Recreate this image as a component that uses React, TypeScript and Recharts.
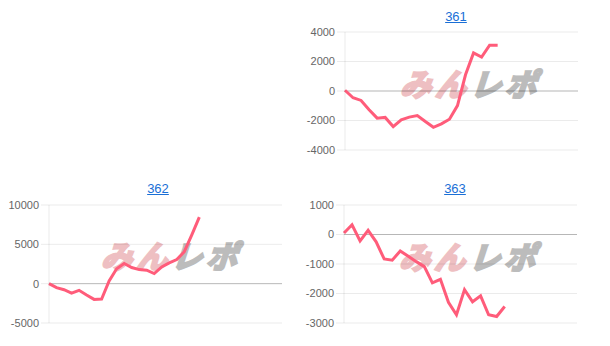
import { LineChart, Line, XAxis, YAxis, CartesianGrid, ReferenceLine } from 'recharts'

// category slots (days) per chart
const DAYS_30 = [1, 2, 3, 4, 5, 6, 7, 8, 9, 10, 11, 12, 13, 14, 15, 16, 17, 18, 19, 20, 21, 22, 23, 24, 25, 26, 27, 28, 29, 30]
const DAYS_32 = [1, 2, 3, 4, 5, 6, 7, 8, 9, 10, 11, 12, 13, 14, 15, 16, 17, 18, 19, 20, 21, 22, 23, 24, 25, 26, 27, 28, 29, 30, 31, 32]

const VALUES_361 = [50, -460, -640, -1270, -1840, -1790, -2410, -1950, -1770, -1660, -2070, -2460, -2230, -1910, -990, 1100, 2580, 2300, 3100, 3100]
const VALUES_362 = [0, -510, -770, -1200, -850, -1450, -2000, -1960, 340, 1900, 2560, 2050, 1790, 1710, 1280, 2130, 2650, 3070, 4060, 6190, 8450]
const VALUES_363 = [50, 330, -220, 140, -250, -830, -870, -560, -740, -920, -1090, -1640, -1520, -2300, -2720, -1870, -2280, -2080, -2720, -2780, -2440]

const TICKS_361 = [-4000, -2000, 0, 2000, 4000]
const TICKS_362 = [-5000, 0, 5000, 10000]
const TICKS_363 = [-3000, -2000, -1000, 0, 1000]

const LINE_COLOR = 'rgb(255, 92, 122)'
const GRID = 'rgba(0,0,0,0.08)'
const FONT = '"Liberation Sans", Arial, sans-serif'

type MiniProps = {
  title: string
  days: number[]
  values: number[]
  ticks: number[]
  left: number
  top: number
  titleX: number
  titleY: number
  markX: number
  markY: number
}

function buildRows(days: number[], values: number[]) {
  return days.map((d, i) => ({ day: d, value: i < values.length ? values[i] : null }))
}

// site logo behind each chart, approximated with heavy slanted text
function Watermark({ x, y }: { x: number; y: number }) {
  return (
    <div
      style={{
        position: 'absolute',
        left: x,
        top: y,
        fontFamily: '"Noto Sans CJK JP", sans-serif',
        fontWeight: 700,
        fontSize: 31,
        lineHeight: '30px',
        letterSpacing: 4,
        whiteSpace: 'nowrap',
        transform: 'skewX(-18deg)',
        transformOrigin: 'left bottom',
      }}
    >
      <span style={{ color: '#eebfc2', WebkitTextStroke: '2.5px #eebfc2' }}>みん</span>
      <span style={{ color: '#bcbcbc', WebkitTextStroke: '2.5px #bcbcbc' }}>レポ</span>
    </div>
  )
}

function MiniChart({ title, days, values, ticks, left, top, titleX, titleY, markX, markY }: MiniProps) {
  const rows = buildRows(days, values)
  return (
    <>
      <Watermark x={markX} y={markY} />
      <a
        href="#"
        style={{
          position: 'absolute',
          left: titleX - 30,
          top: titleY - 8,
          width: 60,
          textAlign: 'center',
          fontFamily: FONT,
          fontSize: 13,
          lineHeight: '16px',
          color: '#1a6fd6',
          textDecoration: 'underline',
        }}
      >
        {title}
      </a>
      <div style={{ position: 'absolute', left, top }}>
        <LineChart width={290} height={140} data={rows} margin={{ top: 10, right: 12, bottom: 12, left: 0 }}>
          <CartesianGrid vertical={false} stroke={GRID} />
          <XAxis dataKey="day" hide />
          <YAxis
            width={45}
            domain={[ticks[0], ticks[ticks.length - 1]]}
            ticks={ticks}
            interval={0}
            axisLine={{ stroke: GRID }}
            tickLine={{ stroke: GRID }}
            tickSize={8}
            tickMargin={2}
            tick={{ fontSize: 11, fill: '#666', fontFamily: FONT }}
          />
          <ReferenceLine y={0} stroke="rgba(0,0,0,0.22)" />
          <Line
            type="linear"
            dataKey="value"
            stroke={LINE_COLOR}
            strokeWidth={3}
            dot={false}
            activeDot={false}
            connectNulls={false}
            isAnimationActive={false}
          />
        </LineChart>
      </div>
    </>
  )
}

export default function App() {
  return (
    <div style={{ position: 'absolute', left: 0, top: 0, width: 610, height: 346, background: '#fff', overflow: 'hidden' }}>
      <MiniChart
        title="361"
        days={DAYS_30}
        values={VALUES_361}
        ticks={TICKS_361}
        left={300}
        top={22}
        titleX={456}
        titleY={17}
        markX={399}
        markY={68}
      />
      <MiniChart
        title="362"
        days={DAYS_32}
        values={VALUES_362}
        ticks={TICKS_362}
        left={4}
        top={195}
        titleX={158}
        titleY={189}
        markX={100}
        markY={240}
      />
      <MiniChart
        title="363"
        days={DAYS_30}
        values={VALUES_363}
        ticks={TICKS_363}
        left={299}
        top={195}
        titleX={455}
        titleY={189}
        markX={398}
        markY={241}
      />
    </div>
  )
}
